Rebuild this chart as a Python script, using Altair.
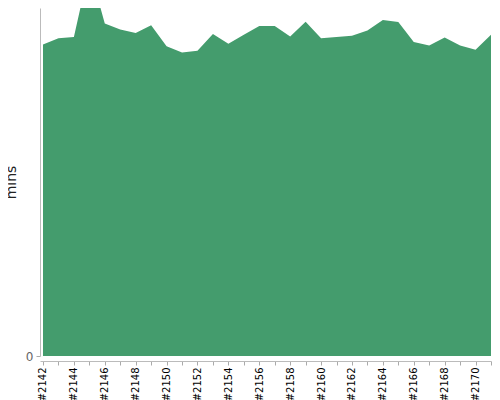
import altair as alt
import pandas as pd

builds = list(range(2142, 2172))
mins = [35.4, 36.1, 36.25, 44.1, 37.8, 37.1, 36.7, 37.6, 35.2, 34.5,
        34.7, 36.6, 35.5, 36.5, 37.5, 37.5, 36.3, 38.0, 36.1, 36.25,
        36.4, 37.0, 38.2, 37.95, 35.7, 35.3, 36.2, 35.3, 34.8, 36.5]

df = pd.DataFrame({"build": builds, "mins": mins})

chart = alt.Chart(df).mark_area(color="#449c6d", clip=True, opacity=1).encode(
    x=alt.X("build:Q",
            scale=alt.Scale(domain=[2141.806, 2171], nice=False, zero=False),
            axis=alt.Axis(values=builds, labelExpr="datum.value % 2 == 0 ? '#' + datum.value : ''",
                          labelAngle=-90, labelFontSize=10, labelColor="#000", labelFont="DejaVu Sans",
                          tickSize=4, tickColor="#aaa", domainColor="#bbb", offset=5,
                          grid=False, title=None, labelPadding=2, labelOverlap=False)),
    y=alt.Y("mins:Q", scale=alt.Scale(domain=[0, 39.55], nice=False),
            axis=alt.Axis(values=[0], title="mins", titleFontSize=14, titleFont="DejaVu Sans",
                          titleFontWeight="normal", titleColor="#222", titlePadding=7,
                          labelFontSize=12, labelFont="DejaVu Sans", labelColor="#666",
                          tickSize=4, tickColor="#aaa", domainColor="#bbb", grid=False, labelPadding=3))
).properties(
    width=451, height=348,
    autosize=alt.AutoSizeParams(type="none"),
    padding={"left": 32, "top": 0, "right": 1, "bottom": 50}
).configure_view(stroke=None)

chart.save("out.html", embed_options={"renderer": "svg", "actions": False})
